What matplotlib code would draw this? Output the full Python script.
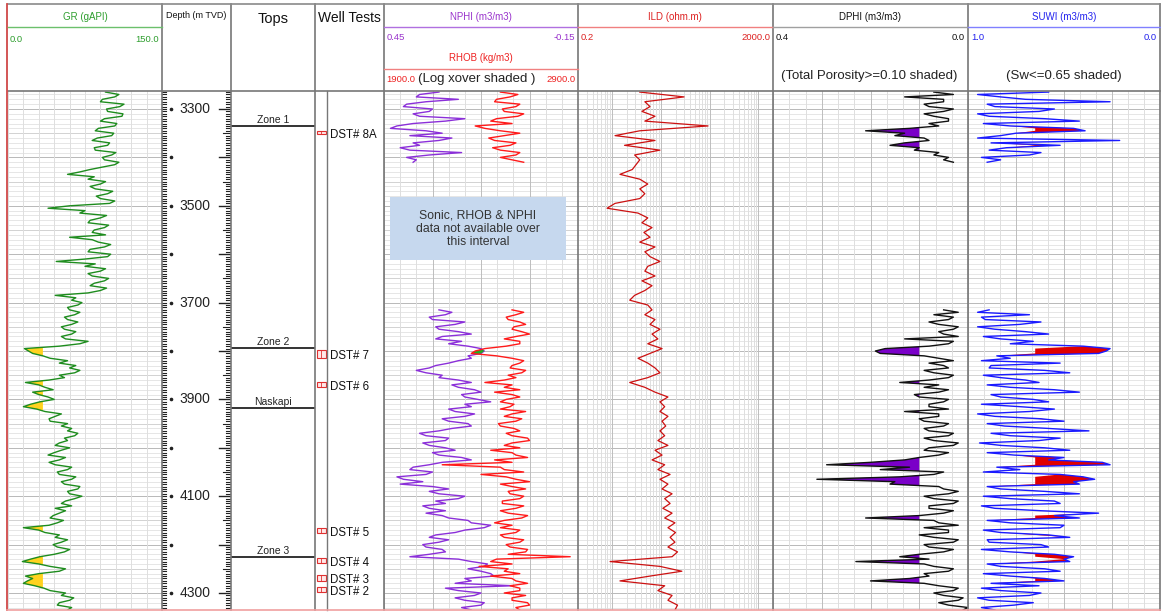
import numpy as np
import matplotlib.pyplot as plt
from matplotlib.patches import Rectangle

plt.rcParams['font.family'] = ['Liberation Sans', 'DejaVu Sans']

# log samples, m TVD, every 5 m (ILD every 10 m)
depth = np.arange(3265, 4336, 5)
ild_depth = np.arange(3265, 4336, 10)

gr = np.array([
    95, 108, 104, 92, 90, 113, 109, 96, 97, 112,
    111, 94, 90, 106, 104, 88, 85, 103, 101, 87,
    82, 99, 97, 84, 85, 105, 101, 92, 94, 108,
    104, 92, 80, 70, 58, 84, 78, 95, 90, 80,
    85, 102, 97, 86, 90, 104, 99, 60, 39, 75,
    70, 96, 90, 80, 78, 98, 94, 84, 82, 95,
    60, 82, 88, 100, 94, 80, 78, 100, 97, 75,
    47, 85, 75, 95, 90, 78, 82, 98, 94, 84,
    80, 96, 90, 78, 46, 66, 62, 72, 68, 58,
    60, 70, 65, 55, 58, 68, 62, 52, 55, 66,
    62, 52, 56, 78, 70, 50, 16, 20, 24, 34,
    41, 58, 50, 66, 60, 70, 65, 50, 55, 40,
    17, 30, 36, 44, 24, 30, 39, 45, 31, 22,
    15, 28, 36, 52, 46, 40, 41, 58, 52, 62,
    58, 68, 65, 55, 58, 50, 46, 60, 52, 45,
    39, 56, 50, 40, 46, 62, 58, 48, 50, 66,
    62, 52, 55, 70, 68, 58, 60, 72, 65, 56,
    52, 62, 46, 56, 50, 44, 41, 54, 48, 40,
    15, 30, 36, 50, 46, 58, 52, 44, 48, 60,
    55, 45, 31, 22, 14, 30, 41, 56, 50, 30,
    17, 24, 19, 15, 26, 35, 41, 56, 52, 64,
    60, 50, 48, 62, 58])

ild = np.array([
    3.7, 30, 4.7, 6.0, 4.1, 7.6, 4.7, 93, 3.7, 1.15,
    7.6, 1.8, 9.6, 2.9, 3.7, 3.1, 2.6, 1.45, 3.7, 5.4,
    3.7, 4.7, 3.7, 1.15, 0.79, 3.4, 5.4, 4.1, 6.6, 4.5,
    6.0, 3.7, 7.6, 4.7, 6.0, 9.6, 5.4, 4.7, 7.6, 4.1,
    6.6, 4.7, 2.9, 2.3, 5.4, 6.6, 4.7, 7.6, 6.0, 9.6,
    6.6, 8.7, 5.4, 10.6, 6.0, 3.4, 5.4, 7.6, 9.6, 5.4,
    2.3, 4.7, 7.6, 14, 9.6, 12, 9.6, 14, 10.6, 12.6,
    9.6, 12, 8.7, 14, 7.6, 10.6, 6.6, 12, 8.7, 15.5,
    9.6, 14, 10.6, 17, 12, 15.5, 11, 17, 12, 19.5,
    14, 20, 15.5, 19.5, 14, 22, 17, 0.91, 9.6, 27,
    6.0, 1.45, 12, 8.7, 17, 14, 22, 19.5])

# density/neutron/saturation runs: upper 3265-3410, lower 3715-4335
nphi_upper = [
    0.28, 0.34, 0.35, 0.22, 0.32, 0.38, 0.39, 0.30, 0.31, 0.36,
    0.34, 0.20, 0.26, 0.36, 0.41, 0.43, 0.32, 0.27, 0.37, 0.24,
    0.28, 0.36, 0.34, 0.40, 0.37, 0.21, 0.31, 0.38, 0.35, 0.36]
nphi_lower = [
    0.28, 0.24, 0.26, 0.31, 0.30, 0.20, 0.23, 0.29, 0.28, 0.22,
    0.18, 0.27, 0.29, 0.21, 0.25, 0.19, 0.15, 0.14, 0.15, 0.19,
    0.18, 0.22, 0.25, 0.29, 0.31, 0.35, 0.32, 0.27, 0.28, 0.22,
    0.18, 0.24, 0.22, 0.17, 0.15, 0.21, 0.20, 0.16, 0.12, 0.20,
    0.18, 0.25, 0.23, 0.17, 0.20, 0.27, 0.25, 0.19, 0.18, 0.24,
    0.28, 0.34, 0.32, 0.25, 0.26, 0.33, 0.31, 0.26, 0.23, 0.30,
    0.28, 0.21, 0.18, 0.27, 0.31, 0.36, 0.37, 0.30, 0.32, 0.41,
    0.39, 0.33, 0.40, 0.30, 0.25, 0.31, 0.28, 0.20, 0.22, 0.29,
    0.26, 0.33, 0.31, 0.26, 0.32, 0.27, 0.25, 0.19, 0.18, 0.12,
    0.14, 0.20, 0.23, 0.29, 0.31, 0.25, 0.28, 0.33, 0.32, 0.27,
    0.26, 0.31, 0.37, 0.22, 0.18, 0.13, 0.14, 0.19, 0.15, 0.12,
    0.11, 0.20, 0.18, 0.23, 0.05, 0.26, 0.22, 0.15, 0.17, 0.23,
    0.20, 0.14, 0.15, 0.21, 0.18]

rhob_upper = [
    2500, 2590, 2550, 2480, 2470, 2600, 2580, 2510, 2520, 2620,
    2590, 2480, 2450, 2560, 2370, 2420, 2500, 2600, 2520, 2440,
    2470, 2580, 2550, 2460, 2500, 2600, 2580, 2500, 2560, 2620]
rhob_lower = [
    2560, 2620, 2580, 2530, 2540, 2600, 2630, 2570, 2560, 2610,
    2650, 2580, 2520, 2600, 2600, 2530, 2420, 2370, 2350, 2480,
    2560, 2620, 2600, 2560, 2550, 2630, 2610, 2540, 2580, 2520,
    2420, 2560, 2520, 2600, 2470, 2560, 2600, 2530, 2500, 2570,
    2550, 2500, 2630, 2560, 2520, 2610, 2580, 2490, 2500, 2570,
    2600, 2530, 2560, 2640, 2650, 2560, 2520, 2600, 2450, 2560,
    2580, 2640, 2470, 2560, 2200, 2500, 2520, 2620, 2400, 2530,
    2580, 2650, 2500, 2560, 2630, 2540, 2550, 2620, 2600, 2510,
    2510, 2620, 2580, 2500, 2540, 2640, 2610, 2520, 2470, 2560,
    2500, 2600, 2580, 2500, 2520, 2620, 2600, 2530, 2550, 2640,
    2630, 2540, 2860, 2480, 2450, 2560, 2390, 2540, 2520, 2600,
    2450, 2560, 2580, 2640, 2550, 2600, 2600, 2520, 2630, 2560,
    2560, 2640, 2650, 2580, 2600]

dphi_upper = [
    0.07, 0.03, 0.13, 0.05, 0.05, 0.09, 0.08, 0.03, 0.05, 0.09,
    0.07, 0.04, 0.04, 0.08, 0.06, 0.12, 0.21, 0.13, 0.15, 0.09,
    0.08, 0.13, 0.16, 0.10, 0.11, 0.06, 0.07, 0.04, 0.05, 0.03]
dphi_lower = [
    0.05, 0.02, 0.07, 0.03, 0.04, 0.08, 0.06, 0.02, 0.03, 0.06,
    0.05, 0.02, 0.13, 0.03, 0.04, 0.08, 0.17, 0.19, 0.18, 0.09,
    0.06, 0.03, 0.08, 0.05, 0.04, 0.09, 0.07, 0.03, 0.04, 0.08,
    0.14, 0.06, 0.09, 0.04, 0.06, 0.11, 0.10, 0.04, 0.05, 0.08,
    0.08, 0.04, 0.13, 0.06, 0.06, 0.10, 0.09, 0.04, 0.05, 0.09,
    0.08, 0.03, 0.04, 0.09, 0.07, 0.02, 0.03, 0.08, 0.09, 0.04,
    0.06, 0.10, 0.13, 0.20, 0.29, 0.12, 0.18, 0.05, 0.07, 0.14,
    0.31, 0.15, 0.16, 0.06, 0.05, 0.02, 0.04, 0.09, 0.07, 0.02,
    0.03, 0.08, 0.08, 0.03, 0.05, 0.10, 0.21, 0.07, 0.06, 0.02,
    0.09, 0.04, 0.04, 0.10, 0.07, 0.02, 0.03, 0.09, 0.08, 0.03,
    0.05, 0.10, 0.14, 0.08, 0.23, 0.09, 0.07, 0.03, 0.04, 0.09,
    0.08, 0.12, 0.20, 0.09, 0.06, 0.02, 0.03, 0.07, 0.05, 0.01,
    0.02, 0.06, 0.04, 0.00, 0.01]

suwi_upper = [
    0.58, 0.95, 0.83, 0.70, 0.26, 0.90, 0.86, 0.55, 0.63, 0.95,
    0.89, 0.60, 0.42, 0.92, 0.78, 0.45, 0.39, 0.75, 0.83, 0.95,
    0.21, 0.88, 0.52, 0.80, 0.89, 0.62, 0.68, 0.93, 0.83, 0.90]
suwi_lower = [
    0.89, 0.95, 0.68, 0.93, 0.91, 0.62, 0.73, 0.95, 0.86, 0.70,
    0.58, 0.92, 0.83, 0.66, 0.78, 0.40, 0.26, 0.28, 0.32, 0.85,
    0.78, 0.93, 0.52, 0.88, 0.89, 0.60, 0.47, 0.92, 0.83, 0.70,
    0.63, 0.90, 0.78, 0.55, 0.42, 0.88, 0.83, 0.66, 0.58, 0.93,
    0.73, 0.55, 0.68, 0.95, 0.86, 0.62, 0.50, 0.90, 0.81, 0.58,
    0.37, 0.88, 0.78, 0.52, 0.63, 0.94, 0.83, 0.60, 0.47, 0.90,
    0.76, 0.50, 0.58, 0.30, 0.26, 0.85, 0.73, 0.92, 0.52, 0.40,
    0.34, 0.45, 0.42, 0.90, 0.83, 0.60, 0.42, 0.92, 0.78, 0.55,
    0.52, 0.93, 0.86, 0.62, 0.32, 0.55, 0.42, 0.90, 0.78, 0.50,
    0.52, 0.92, 0.83, 0.58, 0.47, 0.90, 0.89, 0.62, 0.58, 0.93,
    0.78, 0.55, 0.45, 0.50, 0.47, 0.90, 0.83, 0.60, 0.52, 0.92,
    0.78, 0.60, 0.50, 0.88, 0.63, 0.93, 0.83, 0.62, 0.68, 0.95,
    0.89, 0.66, 0.76, 0.93, 0.86]

tops_names = ['Zone 1', 'Zone 2', 'Naskapi', 'Zone 3']
tops_depth = [3335, 3794, 3918, 4226]

dst_names = ['DST# 8A', 'DST# 7', 'DST# 6', 'DST# 5', 'DST# 4', 'DST# 3', 'DST# 2']
dst_top = [3345, 3798, 3864, 4166, 4228, 4263, 4288]
dst_base = [3352, 3814, 3874, 4176, 4238, 4275, 4298]

depth_labels = [3300, 3500, 3700, 3900, 4100, 4300]

gr_cut = 34
phi_cut = 0.10
sw_cut = 0.65

# no data between the two runs (3415-3710)
gap = np.full(60, np.nan)
nphi = np.concatenate([nphi_upper, gap, nphi_lower])
rhob = np.concatenate([rhob_upper, gap, rhob_lower])
dphi = np.concatenate([dphi_upper, gap, dphi_lower])
suwi = np.concatenate([suwi_upper, gap, suwi_lower])

W, H = 1161, 613
TOP, BOT = 91, 610
D_TOP, D_BOT = 3262.8, 4335.1

fig = plt.figure(figsize=(W / 100, H / 100), dpi=100)


def track(x0, x1):
    ax = fig.add_axes([x0 / W, 1 - BOT / H, (x1 - x0) / W, (BOT - TOP) / H])
    ax.set_ylim(D_BOT, D_TOP)
    ax.set_xticks([])
    ax.set_yticks([])
    for s in ax.spines.values():
        s.set_visible(False)
    return ax


def hgrid(ax):
    for d in range(3270, 4340, 10):
        if d % 100 == 0:
            c = '#b8b8b8'
        elif d % 50 == 0:
            c = '#d2d2d2'
        else:
            c = '#e6e6e6'
        ax.axhline(d, color=c, lw=0.7, zorder=0)


def vgrid(ax, a, b, n, major):
    for i, v in enumerate(np.linspace(a, b, n + 1)):
        c = '#bdbdbd' if (major and i % major == 0) else '#dedede'
        ax.axvline(v, color=c, lw=0.7, zorder=0)


# GR
ax = track(8, 162)
ax.set_xlim(0, 150)
hgrid(ax)
vgrid(ax, 0, 150, 10, 0)
ax.fill_betweenx(depth, gr, gr_cut, where=gr < gr_cut, interpolate=True,
                 facecolor='#ffd21f', lw=0, zorder=1)
ax.plot(gr, depth, color='#1e8c1e', lw=1.0, zorder=2)

# depth track
ax = track(162, 231)
ax.set_xlim(0, 69)
for d in range(3265, 4336, 5):
    ax.plot([0, 4], [d, d], color='#222222', lw=0.8)
    if d % 100 == 0:
        ax.plot([57, 69], [d, d], color='#222222', lw=1.0)
        ax.plot(9, d, marker='o', ms=1.6, color='#222222')
    elif d % 50 == 0:
        ax.plot([61, 69], [d, d], color='#222222', lw=0.8)
    else:
        ax.plot([64, 69], [d, d], color='#222222', lw=0.8)
for d in depth_labels:
    ax.text(33, d, str(d), ha='center', va='center', fontsize=10, color='#222222')

# tops
ax = track(231, 315)
ax.set_xlim(0, 1)
for name, d in zip(tops_names, tops_depth):
    ax.plot([0, 1], [d, d], color='#333333', lw=1.4)
    ax.text(0.5, d - 2, name, ha='center', va='bottom', fontsize=7.5, color='#222222')

# well tests
ax = track(315, 384)
ax.set_xlim(0, 69)
for name, t, b in zip(dst_names, dst_top, dst_base):
    ax.add_patch(Rectangle((1.5, t), 9.5, b - t, facecolor='#ffe8e8', edgecolor='#e03030', lw=0.8))
    ax.plot([6.25, 6.25], [t, b], color='#e03030', lw=0.6)
    ax.text(14.5, (t + b) / 2 + 5, name, ha='left', va='center', fontsize=8.3, color='#111111')

# NPHI / RHOB
ax_n = track(384, 578)
ax_n.set_xlim(0.45, -0.15)
hgrid(ax_n)
vgrid(ax_n, 0.45, -0.15, 12, 3)
rhob_on_nphi = 0.45 - (rhob - 1900) / 1000 * 0.6
ax_n.fill_betweenx(depth, nphi, rhob_on_nphi, where=nphi < rhob_on_nphi, interpolate=True,
                   facecolor='#22aa22', lw=0, zorder=3)
ax_n.plot(nphi, depth, color='#8b2fd9', lw=1.0, zorder=2)
ax_r = ax_n.twiny()
ax_r.set_xlim(1900, 2900)
ax_r.axis('off')
ax_r.plot(rhob, depth, color='#ff1a1a', lw=1.0)

# ILD
ax = track(578, 773)
ax.set_xscale('log')
ax.set_xlim(0.2, 2000)
ax.set_xticks([])
ax.minorticks_off()
hgrid(ax)
for e in [0.1, 1, 10, 100, 1000]:
    for k in range(1, 10):
        v = k * e
        if 0.2 < v < 2000:
            ax.axvline(v, color='#bdbdbd' if k == 1 else '#dedede', lw=0.7, zorder=0)
ax.plot(ild, ild_depth, color='#cc1111', lw=0.9)

# DPHI
ax = track(773, 968)
ax.set_xlim(0.4, 0.0)
hgrid(ax)
vgrid(ax, 0.4, 0.0, 12, 3)
ax.fill_betweenx(depth, dphi, phi_cut, where=dphi >= phi_cut, interpolate=True,
                 facecolor='#7a00c8', lw=0, zorder=1)
ax.plot(dphi, depth, color='#111111', lw=1.0, zorder=2)

# SUWI
ax = track(968, 1160)
ax.set_xlim(1.0, 0.0)
hgrid(ax)
vgrid(ax, 1.0, 0.0, 12, 3)
pay = (suwi <= sw_cut) & (dphi >= phi_cut)
ax.fill_betweenx(depth, suwi, np.where(pay, sw_cut, suwi), facecolor='#e00000', lw=0, zorder=1)
ax.plot(suwi, depth, color='#1a1aff', lw=1.0, zorder=2)

# frame, header
ov = fig.add_axes([0, 0, 1, 1])
ov.set_xlim(0, W)
ov.set_ylim(H, 0)
ov.axis('off')

ov.add_patch(Rectangle((390, 197), 176, 63, facecolor='#c6d8ee', edgecolor='none'))
ov.text(478, 228.5, 'Sonic, RHOB & NPHI\ndata not available over\nthis interval',
        ha='center', va='center', fontsize=8.8, color='#333333', linespacing=1.15)

edges = [8, 162, 231, 315, 384, 578, 773, 968, 1160]
for x in edges[1:]:
    ov.plot([x, x], [4, BOT], color='#777777', lw=1.2)
ov.plot([327, 327], [TOP, BOT], color='#777777', lw=1.0)
ov.plot([8, 1160], [4, 4], color='#8a8a8a', lw=1.2)
ov.plot([8, 1160], [TOP, TOP], color='#777777', lw=1.2)
ov.plot([7, 7], [4, BOT], color='#d04848', lw=1.3)
ov.plot([7, 1160], [BOT, BOT], color='#f0a0a0', lw=1.2)

fs_name = 7
fs_scale = 6.8
ov.text(85, 17, 'GR (gAPI)', ha='center', va='center', fontsize=fs_name, color='#2e9e2e')
ov.plot([8, 162], [27, 27], color='#6cc06c', lw=1.0)
ov.text(10, 39, '0.0', ha='left', va='center', fontsize=fs_scale, color='#2e9e2e')
ov.text(159, 39, '150.0', ha='right', va='center', fontsize=fs_scale, color='#2e9e2e')

ov.text(196, 15, 'Depth (m TVD)', ha='center', va='center', fontsize=6.5, color='#111111')
ov.text(273, 19, 'Tops', ha='center', va='center', fontsize=10.5, color='#111111')
ov.text(349, 18, 'Well Tests', ha='center', va='center', fontsize=10, color='#111111')

ov.text(481, 17, 'NPHI (m3/m3)', ha='center', va='center', fontsize=fs_name, color='#9933cc')
ov.plot([384, 578], [27, 27], color='#b070e0', lw=1.0)
ov.text(387, 38, '0.45', ha='left', va='center', fontsize=fs_scale, color='#9933cc')
ov.text(575, 38, '-0.15', ha='right', va='center', fontsize=fs_scale, color='#9933cc')
ov.text(481, 58, 'RHOB (kg/m3)', ha='center', va='center', fontsize=fs_name, color='#ee2222')
ov.plot([384, 578], [69, 69], color='#f08080', lw=1.0)
ov.text(386, 79, '1900.0', ha='left', va='center', fontsize=fs_scale, color='#ee2222')
ov.text(477, 79, '(Log xover shaded )', ha='center', va='center', fontsize=9.5, color='#222222')
ov.text(576, 79, '2900.0', ha='right', va='center', fontsize=fs_scale, color='#ee2222')

ov.text(675, 17, 'ILD (ohm.m)', ha='center', va='center', fontsize=fs_name, color='#dd2222')
ov.plot([578, 773], [27, 27], color='#f08080', lw=1.0)
ov.text(581, 38, '0.2', ha='left', va='center', fontsize=fs_scale, color='#dd2222')
ov.text(770, 38, '2000.0', ha='right', va='center', fontsize=fs_scale, color='#dd2222')

ov.text(870, 17, 'DPHI (m3/m3)', ha='center', va='center', fontsize=fs_name, color='#111111')
ov.plot([773, 968], [27, 27], color='#a0a0a0', lw=1.0)
ov.text(776, 38, '0.4', ha='left', va='center', fontsize=fs_scale, color='#111111')
ov.text(965, 38, '0.0', ha='right', va='center', fontsize=fs_scale, color='#111111')
ov.text(869, 76, '(Total Porosity>=0.10 shaded)', ha='center', va='center', fontsize=9.5, color='#222222')

ov.text(1064, 17, 'SUWI (m3/m3)', ha='center', va='center', fontsize=fs_name, color='#2222ee')
ov.plot([968, 1160], [27, 27], color='#8080ff', lw=1.0)
ov.text(971, 38, '1.0', ha='left', va='center', fontsize=fs_scale, color='#2222ee')
ov.text(1157, 38, '0.0', ha='right', va='center', fontsize=fs_scale, color='#2222ee')
ov.text(1064, 76, '(Sw<=0.65 shaded)', ha='center', va='center', fontsize=9.5, color='#222222')

fig.savefig('out.png', dpi=100)
